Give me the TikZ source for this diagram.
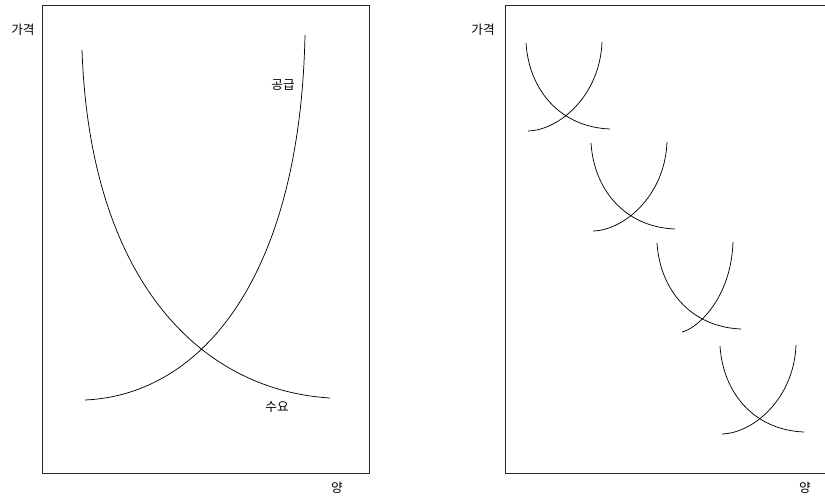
\documentclass[tikz,border=0pt]{standalone}
\usepackage{fontspec}
\newfontfamily\krfont{Noto Sans CJK KR}
\begin{document}
\begin{tikzpicture}[x=0.75pt,y=-0.75pt,
  frame/.style={line width=0.65pt,black!85},
  curve/.style={line width=0.55pt,black},
  lbl/.style={font=\krfont\fontsize{9.5}{11}\selectfont,inner sep=0pt}]
\useasboundingbox (0,0) rectangle (825,501);
% left panel
\draw[frame] (42,5) rectangle (369,473);
\node[lbl] (pL) at (23,30) {가격};
\node[lbl] (qL) at (337,488) {양};
\draw[curve] (82,50) .. controls (90,280) and (200,390) .. (330,398);
\draw[curve] (85,400) .. controls (200,395) and (300,280) .. (305,35);
\node[lbl] (sup) at (283,85) {공급};
\node[lbl] (dem) at (277,407) {수요};
% right panel
\draw[frame] (825,5) -- (505,5) -- (505,473) -- (825,473);
\node[lbl] (pR) at (483,30) {가격};
\node[lbl] (qR) at (805,488) {양};
\foreach \dx/\dy in {0/0,65/100,131/200,194/303}{
  \begin{scope}[shift={(\dx,\dy)}]
    \draw[curve] (526,43) .. controls (529,90) and (560,127) .. (610,129);
  \end{scope}
}
\foreach \dx/\dy in {0/0,65/100,194/303}{
  \begin{scope}[shift={(\dx,\dy)}]
    \draw[curve] (528,131) .. controls (560,130) and (600,95) .. (602,42);
  \end{scope}
}
\begin{scope}[shift={(131,200)}]
  \draw[curve] (551,132) .. controls (565,129) and (600,100) .. (602,42);
\end{scope}
\end{tikzpicture}
\end{document}
